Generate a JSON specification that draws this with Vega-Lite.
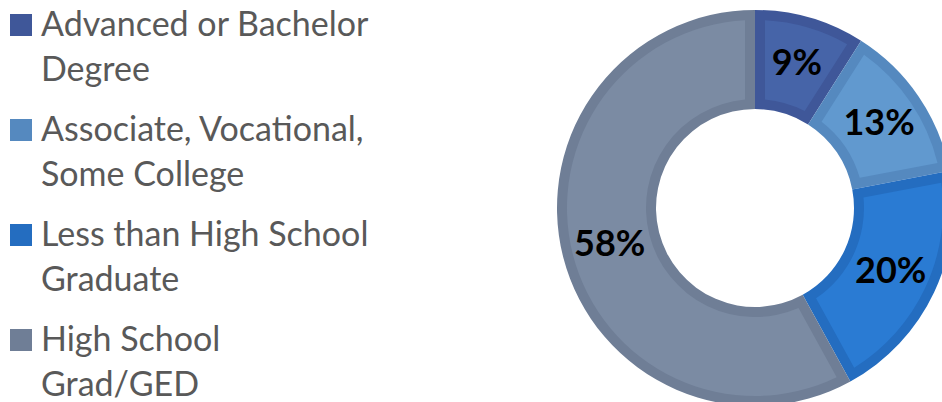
{
  "$schema": "https://vega.github.io/schema/vega-lite/v6.json",
  "width": 374,
  "height": 388,
  "autosize": "none",
  "padding": {"left": 568, "top": 14, "right": 0, "bottom": 0},
  "background": "white",
  "data": {
    "values": [
      {"category": "Advanced or Bachelor|Degree", "share": 9, "label": "9%", "order": 1},
      {"category": "Associate, Vocational,|Some College", "share": 13, "label": "13%", "order": 2},
      {"category": "Less than High School|Graduate", "share": 20, "label": "20%", "order": 3},
      {"category": "High School|Grad/GED", "share": 58, "label": "58%", "order": 4}
    ]
  },
  "encoding": {
    "theta": {"field": "share", "type": "quantitative", "stack": true},
    "order": {"field": "order", "type": "quantitative"}
  },
  "resolve": {
    "scale": {"color": "independent", "fill": "independent"},
    "legend": {"color": "independent", "fill": "independent"}
  },
  "layer": [
    {
      "mark": {"type": "arc", "outerRadius": 198, "innerRadius": 99, "strokeWidth": 0},
      "encoding": {
        "fill": {
          "field": "category", "type": "nominal",
          "scale": {
            "domain": ["Advanced or Bachelor|Degree", "Associate, Vocational,|Some College", "Less than High School|Graduate", "High School|Grad/GED"],
            "range": ["#3f5799", "#5589bf", "#246dc0", "#6f7e96"]
          },
          "legend": {
            "orient": "none",
            "legendX": -564,
            "legendY": -6,
            "title": null,
            "padding": 0,
            "symbolType": "square",
            "symbolSize": 484,
            "symbolStrokeWidth": 0,
            "labelFont": "Lato",
            "labelFontSize": 34,
            "labelColor": "#595959",
            "labelLimit": 600,
            "labelOffset": 3,
            "labelBaseline": "alphabetic",
            "rowPadding": 25,
            "labelExpr": "split(datum.label, '|')"
          }
        }
      }
    },
    {
      "mark": {"type": "arc", "outerRadius": 188, "innerRadius": 109, "padAngle": 0.092},
      "encoding": {
        "color": {
          "field": "category", "type": "nominal",
          "scale": {
            "domain": ["Advanced or Bachelor|Degree", "Associate, Vocational,|Some College", "Less than High School|Graduate", "High School|Grad/GED"],
            "range": ["#4664a8", "#6199cf", "#2a7bd3", "#7b8ba3"]
          },
          "legend": null
        }
      }
    },
    {
      "mark": {"type": "text", "radius": 150, "font": "Lato", "fontWeight": "bold", "fontSize": 36, "color": "#000000"},
      "encoding": {
        "text": {"field": "label", "type": "nominal"}
      }
    }
  ],
  "config": {
    "view": {"stroke": null},
    "style": {"guide-label": {"dy": 11, "lineHeight": 45}}
  }
}
